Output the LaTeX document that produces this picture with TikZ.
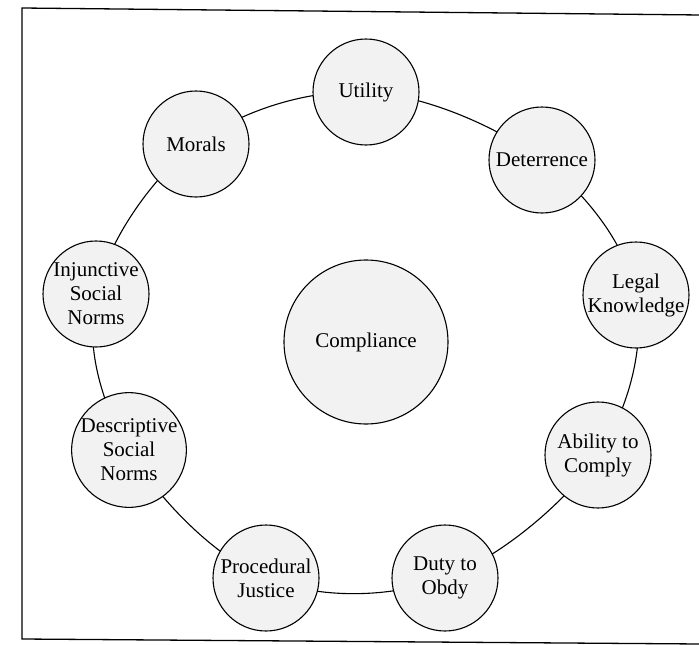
\documentclass[tikz,border=0pt]{standalone}
\usepackage{fontspec}
\setmainfont{Liberation Serif}
\begin{document}
\begin{tikzpicture}[x=1pt,y=-1pt,
  factor/.style={circle,draw=black,line width=1.1pt,fill=gray!10,minimum size=106pt,inner sep=0pt,align=center,font=\fontsize{21}{24}\selectfont},
  core/.style={factor,minimum size=164pt},
  ring/.style={draw=black,line width=1.1pt},
  frame/.style={draw=black,line width=1.3pt}]
\useasboundingbox (0,0) rectangle (699,645);
\draw[frame] (701,15) -- (22,8) -- (22,639) -- (701,644);
\coordinate (cu) at (366,92);
\coordinate (cd) at (542,160);
\coordinate (cl) at (636,295);
\coordinate (ca) at (598,455);
\coordinate (cy) at (445,578);
\coordinate (cp) at (266,578);
\coordinate (ce) at (129,450);
\coordinate (ci) at (96,294);
\coordinate (cm) at (196,144);
\draw[ring] plot[smooth cycle,tension=0.6] coordinates {(cu) (cd) (cl) (ca) (cy) (cp) (ce) (ci) (cm)};
\node[factor] (u) at (cu) {Utility};
\node[factor] (d) at (cd) {Deterrence};
\node[factor] (l) at (cl) {Legal\\Knowledge};
\node[factor] (a) at (ca) {Ability to\\Comply};
\node[factor] (y) at (cy) {Duty to\\Obdy};
\node[factor] (p) at (cp) {Procedural\\Justice};
\node[factor] (e) at (ce) {Descriptive\\Social\\Norms};
\node[factor] (i) at (ci) {Injunctive\\Social\\Norms};
\node[factor] (m) at (cm) {Morals};
\node[core] (c) at (366,342) {Compliance};
\end{tikzpicture}
\end{document}
